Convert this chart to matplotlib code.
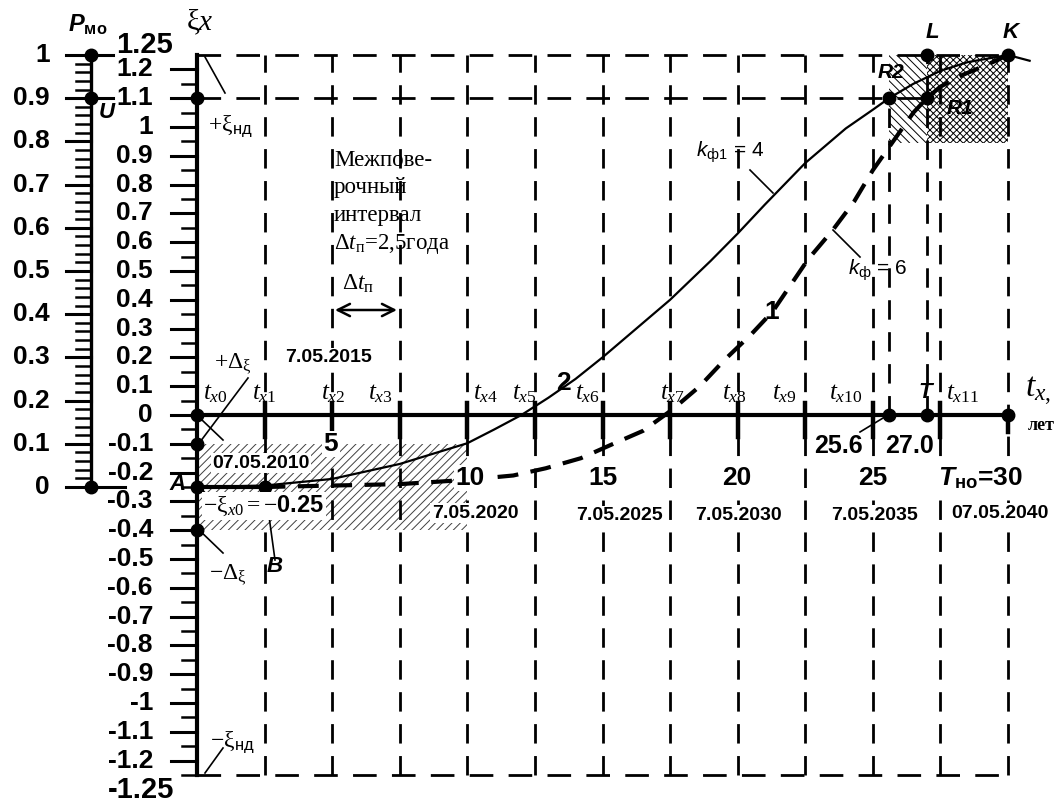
import numpy as np
import matplotlib
matplotlib.use("Agg")
import matplotlib.pyplot as plt
import matplotlib.transforms as mtransforms
from matplotlib.patches import Rectangle

plt.rcParams['mathtext.fontset'] = 'custom'
plt.rcParams['mathtext.rm'] = 'Liberation Serif'
plt.rcParams['mathtext.it'] = 'Liberation Serif:italic'
plt.rcParams['mathtext.bf'] = 'Liberation Sans:bold'
plt.rcParams['mathtext.sf'] = 'Liberation Sans'
plt.rcParams['mathtext.cal'] = 'Liberation Sans:italic'
plt.rcParams['mathtext.bfit'] = 'Liberation Sans:italic:bold'
plt.rcParams['lines.scale_dashes'] = False
plt.rcParams['hatch.linewidth'] = 0.7

# ---- данные ----
P_ticks = [0, 0.1, 0.2, 0.3, 0.4, 0.5, 0.6, 0.7, 0.8, 0.9, 1]
xi_ticks = [-1.2, -1.1, -1.0, -0.9, -0.8, -0.7, -0.6, -0.5, -0.4, -0.3, -0.2, -0.1,
            0, 0.1, 0.2, 0.3, 0.4, 0.5, 0.6, 0.7, 0.8, 0.9, 1.0, 1.1, 1.2]
xi_nd = 1.25          # +ξнд
xi_U = 1.1            # уровень U
xi_x0 = -0.25         # -ξx0
d_xi = 0.15           # Δξ
t_x = [0, 2.5, 5, 7.5, 10, 12.5, 15, 17.5, 20, 22.5, 25, 27.5]
years = [5, 10, 15, 20, 25]
T_no = 30
T = 27.0
t_R2 = 25.6
dates = ["07.05.2010", "7.05.2015", "7.05.2020", "7.05.2025",
         "7.05.2030", "7.05.2035", "07.05.2040"]

# кривая 2, k_ф1 = 4
t_k4 = [0, 2.5, 5, 7.5, 10, 11, 12, 13, 14, 15, 16, 17.5, 19, 20, 21, 22.5,
        24, 25, 25.6, 26.5, 27.5, 28.5, 30, 30.8]
xi_k4 = [-0.25, -0.245, -0.222, -0.17, -0.098, -0.05, 0.0, 0.06, 0.125, 0.2,
         0.28, 0.40, 0.535, 0.63, 0.73, 0.875, 0.995, 1.06, 1.10, 1.15,
         1.195, 1.225, 1.25, 1.23]
# кривая 1, k_ф = 6
t_k6 = [2.5, 5, 7.5, 10, 11.7, 12.9, 14.2, 15.4, 16.5, 17.6, 18.6, 19.5, 20.5,
        21.3, 22.6, 23.5, 24.3, 25, 25.6, 26.5, 27, 27.5, 28.3, 29.2, 30]
xi_k6 = [-0.25, -0.245, -0.24, -0.225, -0.21, -0.185, -0.15, -0.10, -0.055,
         0.02, 0.10, 0.19, 0.28, 0.36, 0.54, 0.64, 0.74, 0.85, 0.93, 1.05,
         1.10, 1.14, 1.18, 1.215, 1.25]


def xi_of_P(p):
    return xi_x0 + p * (xi_nd - xi_x0)


# ---- пиксельная раскладка ----
W, H = 1057, 802
X0, Y0 = 197, 415
KX, KY = 811 / 30, 288


def tp(x):
    return (x - X0) / KX


def yp(y):
    return (Y0 - y) / KY


fig = plt.figure(figsize=(W / 100, H / 100), dpi=100)
ax = fig.add_axes([0, 0, 1, 1])
ax.set_xlim(tp(0), tp(W))
ax.set_ylim(yp(H), yp(0))
ax.axis('off')
PX = mtransforms.Affine2D().scale(1 / W, -1 / H).translate(0, 1) + fig.transFigure

SANS = 'Liberation Sans'
SERIF = 'Liberation Serif'
WB = dict(fc='white', ec='none', pad=1)


def txt(x, y, s, size, fam=SANS, bold=False, ital=False, ha='center', va='center', bg=False):
    ax.text(x, y, s, transform=PX, fontsize=size, family=fam,
            fontweight='bold' if bold else 'normal',
            fontstyle='italic' if ital else 'normal',
            ha=ha, va=va, zorder=8, bbox=WB if bg else None)


def lead(x1, y1, x2, y2):
    ax.plot([x1, x2], [y1, y2], color='k', lw=1.2, transform=PX, zorder=7)


# штриховка
ax.add_patch(Rectangle((t_x[0], xi_x0 - d_xi), t_x[4] - t_x[0], 2 * d_xi, fill=False,
                       hatch='////', edgecolor='0.25', lw=0, zorder=1))
ax.add_patch(Rectangle((t_R2, 0.945), T - t_R2, xi_nd - 0.945, fill=False,
                       hatch='\\\\\\\\', edgecolor='k', lw=0, zorder=1))
ax.add_patch(Rectangle((T, 0.945), T_no - T, xi_nd - 0.945, fill=False,
                       hatch='xxxxx', edgecolor='k', lw=0, zorder=1))

# пунктирная сетка
for t in t_x[1:] + [T_no]:
    ax.plot([t, t], [-xi_nd, xi_nd], color='k', lw=2, dashes=(14, 9), zorder=2)
ax.plot([t_R2, t_R2], [0, xi_U], color='k', lw=2, dashes=(14, 9), zorder=2)
ax.plot([T, T], [0, xi_nd], color='k', lw=2, dashes=(14, 9), zorder=2)
for yv, x2 in [(xi_nd, T_no), (xi_U, T), (-xi_nd, T_no)]:
    ax.plot([0, x2], [yv, yv], color='k', lw=2, dashes=(17, 11), zorder=2)

# кривые
ax.plot(t_k4, xi_k4, color='k', lw=1.6, zorder=4)
ax.plot(t_x[:2], [xi_x0, xi_x0], color='k', lw=3, zorder=4)
ax.plot(t_k6, xi_k6, color='k', lw=3, dashes=(15, 9), zorder=4)

# ось P_мо
tP = tp(91)
ax.plot([tP, tP], [xi_of_P(0), xi_of_P(1)], color='k', lw=2.4, zorder=5)
for p in P_ticks:
    right = {1: 113, 0.9: 113, 0: 125}.get(p, 91)
    ax.plot([tp(66), tp(right)], [xi_of_P(p)] * 2, color='k', lw=2.2, zorder=5)
    ax.text(tp(50), xi_of_P(p), f"{p:g}", ha='right', va='center', fontsize=19,
            family=SANS, fontweight='bold', zorder=8)
for i in range(51):
    if i % 5:
        ax.plot([tp(76), tP], [xi_of_P(i / 50)] * 2, color='k', lw=1.8, zorder=5)

# ось ξ
ax.plot([0, 0], [-xi_nd, xi_nd], color='k', lw=3, zorder=5)
for v in xi_ticks:
    ax.plot([tp(171), 0], [v, v], color='k', lw=2.2, zorder=5)
    ax.text(tp(153), v, f"{v:g}", ha='right', va='center', fontsize=19,
            family=SANS, fontweight='bold', zorder=8)
for v in xi_ticks[:-1]:
    ax.plot([tp(182), 0], [v + 0.05] * 2, color='k', lw=1.8, zorder=5)
ax.plot([tp(182), 0], [-1.25] * 2, color='k', lw=1.8, zorder=5)
txt(144, 45, "1.25", 21, bold=True)
txt(141, 790, "-1.25", 21, bold=True)

# ось t_x
ax.plot([0, T_no], [0, 0], color='k', lw=3, zorder=5)
for t in t_x[1:]:
    ax.plot([t, t], [0.04, -0.075], color='k', lw=3.2, zorder=5)
ax.plot([T_no, T_no], [0, -0.06], color='k', lw=3.2, zorder=5)

# точки
pts_t = [tP, tP, tP, 0, 0, 0, 0, 0, t_x[1], t_R2, T, T, T_no, t_R2, T, T_no]
pts_xi = [xi_of_P(1), xi_of_P(0.9), xi_of_P(0), xi_U, 0, xi_x0 + d_xi, xi_x0,
          xi_x0 - d_xi, xi_x0, xi_U, xi_U, xi_nd, xi_nd, 0, 0, 0]
ax.plot(pts_t, pts_xi, 'o', color='k', ms=9, zorder=6, ls='none')

# Δt_п стрелка
ax.annotate('', xy=(t_x[3], yp(310)), xytext=(t_x[2], yp(310)),
            arrowprops=dict(arrowstyle='<->', lw=1.8, mutation_scale=22, color='k'),
            zorder=7)

# подписи
txt(88, 25, r"$\mathbfit{P}_{\mathbf{мо}}$", 17)
txt(200, 22, r"$\mathrm{ξ}x$", 21)
txt(107, 113, "U", 16, bold=True, ital=True)
txt(230, 126, r"$+\mathrm{ξ}_{\mathsf{нд}}$", 17)
txt(232, 742, r"$-\mathrm{ξ}_{\mathsf{нд}}$", 17)
txt(233, 364, r"$+\mathrm{Δ}_{\mathrm{ξ}}$", 17)
txt(228, 575, r"$-\mathrm{Δ}_{\mathrm{ξ}}$", 17)
txt(178, 484, "A", 16, bold=True, ital=True)
txt(275, 567, "B", 16, bold=True, ital=True)
txt(264, 506, r"$-\mathrm{ξ}_{x0}=-\mathbf{0.25}$", 17, bg=True)

t_off = [18, 0, 1, -19, 18, -11, -15, 2, -3, -21, -27, 22]
for i, t in enumerate(t_x):
    txt(X0 + t * KX + t_off[i], 393, r"$t_{x%d}$" % i, 18)
txt(925, 393, "T", 16, bold=True, ital=True)
txt(1038, 391, r"$t_{x,}$", 24)
txt(1041, 425, "лет", 13, fam=SERIF, bold=True)

yr_pos = [(331, 444), (470, 478), (603, 478), (737, 478), (873, 478)]
for y, (x, yy) in zip(years, yr_pos):
    txt(x, yy, str(y), 19, bold=True, bg=True)
txt(980, 478, r"$\mathbfit{T}_{\mathbf{но}}$=%d" % T_no, 19, bold=True, bg=True)

date_pos = [(261, 463), (328, 358), (475, 513), (619, 516), (738, 515), (874, 515), (1000, 513)]
for d, (x, y) in zip(dates, date_pos):
    txt(x, y, d, 14, bold=True, bg=True)

txt(838, 446, f"{t_R2:.1f}", 18, bold=True, bg=True)
txt(910, 446, f"{T:.1f}", 18, bold=True, bg=True)

for s, yb in zip(["Межпове-", "рочный", "интервал", r"$\mathrm{Δ}t_{\mathrm{п}}$=2,5года"],
                 [166, 193.5, 221, 248.5]):
    txt(334, yb, s, 16.5, fam=SERIF, ha='left', va='baseline')
txt(358, 284, r"$\mathrm{Δ}t_{\mathrm{п}}$", 17)

txt(730, 152, r"$\mathcal{k}_{\mathsf{ф1}}$ = 4", 15)
txt(878, 270, r"$\mathcal{k}_{\mathsf{ф}}$ = 6", 15)
txt(772, 312, "1", 19, bold=True)
txt(563, 383, "2", 19, bold=True)
txt(891, 72, "R2", 15, bold=True, ital=True)
txt(960, 108, "R1", 15, bold=True, ital=True)
txt(932, 32, "L", 16, bold=True, ital=True)
txt(1011, 32, "K", 16, bold=True, ital=True)

# выноски
lead(205, 57, 225, 93)
lead(205, 773, 223, 748)
lead(248, 378, 200, 442)
lead(202, 420, 223, 440)
lead(200, 487, 213, 502)
lead(197, 528, 223, 553)
lead(265, 487, 275, 560)
lead(750, 170, 773, 193)
lead(833, 230, 860, 257)
lead(888, 415, 860, 432)

fig.savefig("out.png", dpi=100, facecolor='white')
